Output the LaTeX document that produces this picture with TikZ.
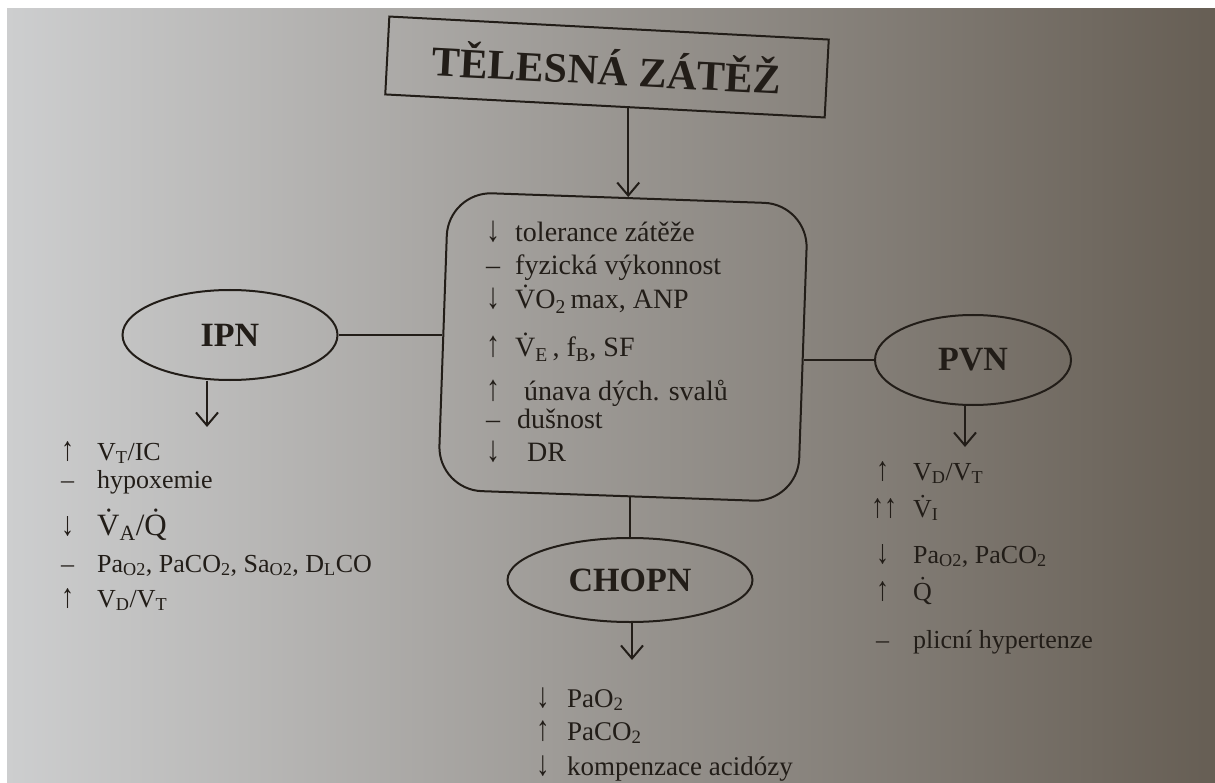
\documentclass[tikz,border=0pt]{standalone}
\usepackage{fontspec}
\usepackage{graphicx}
\setmainfont{Liberation Serif}
\usetikzlibrary{arrows.meta,shapes.geometric}
\definecolor{ink}{HTML}{221D18}
\definecolor{bgL}{HTML}{CDCECF}
\definecolor{bgM}{HTML}{9C978F}
\definecolor{bgR}{HTML}{665E54}
\newcommand{\mk}[2][29pt]{\makebox[#1][l]{#2}}
\newcommand{\up}{\smash{\scalebox{1}[1.3]{↑}}}
\newcommand{\dn}{\smash{\scalebox{1}[1.3]{↓}}}
\tikzset{
  every node/.style={text=ink, inner sep=0pt},
  lbl/.style={anchor=base west, font=\fontsize{27}{30}\selectfont},
  lbls/.style={anchor=base west, font=\fontsize{26}{30}\selectfont},
  lblc/.style={anchor=base west, font=\fontsize{28}{30}\selectfont},
  ell/.style={draw=ink, ellipse, line width=2pt, font=\bfseries\fontsize{34}{36}\selectfont},
  conn/.style={draw=ink, line width=2pt},
  arr/.style={draw=ink, line width=2pt, -{Straight Barb[length=13pt,width=22pt]}},
}
\begin{document}
\begin{tikzpicture}[x=1pt,y=-1pt]
\useasboundingbox (0,0) rectangle (1215,783);
\fill[white] (0,0) rectangle (1215,783);
\shade[left color=bgL, middle color=bgM, right color=bgR] (7,9) rectangle (1215,783);

% title
\node[draw=ink, line width=2pt, rotate=-3, minimum width=440pt, minimum height=78pt,
      font=\bfseries\fontsize{42}{44}\selectfont] (title) at (607,67) {TĚLESNÁ ZÁTĚŽ};

% central box
\node[draw=ink, line width=2pt, rounded corners=44pt, rotate=-2,
      minimum width=360pt, minimum height=298pt] (box) at (623,347) {};

\node[lblc] (c1) at (486,242) {\mk{\dn}tolerance zátěže};
\node[lblc] (c2) at (486,275) {\mk{–}fyzická výkonnost};
\node[lblc] (c3) at (486,309) {\mk{\dn}\.VO\textsubscript{2}\,max, ANP};
\node[lblc] (c4) at (486,357) {\mk{\up}\.V\textsubscript{E}\,, f\textsubscript{B}, SF};
\node[lblc] (c5) at (486,400) {\mk[38pt]{\up}únava dých. svalů};
\node[lblc] (c6) at (486,428) {\mk[31pt]{–}dušnost};
\node[lblc] (c7) at (486,461) {\mk[41pt]{\dn}DR};

% ellipses
\node[ell, minimum width=215pt, minimum height=90pt] (IPN) at (230,335) {IPN};
\node[ell, minimum width=196pt, minimum height=90pt] (PVN) at (973,360) {PVN};
\node[ell, minimum width=245pt, minimum height=84pt] (CHOPN) at (630,580) {CHOPN};

% connectors
\draw[arr] (box.north |- title.south) -- (box.north);
\draw[conn] (IPN.east) -- (IPN.east -| box.west);
\draw[conn] (PVN.west) -- (PVN.west -| box.east);
\draw[conn] (CHOPN.north |- box.south) -- (CHOPN.north);

\coordinate (ipnend) at (207,427);
\coordinate (pvnend) at (965,447);
\coordinate (chend) at (632,660);
\draw[arr] (ipnend |- IPN.south) -- (ipnend);
\draw[arr] (pvnend |- PVN.south) -- (pvnend);
\draw[arr] (chend |- CHOPN.south) -- (chend);

% IPN list
\node[lbls] (i1) at (61,460) {\mk[36pt]{\up}V\textsubscript{T}/IC};
\node[lbls] (i2) at (61,488) {\mk[36pt]{–}hypoxemie};
\node[lbls] (i3) at (61,535) {\mk[36pt]{\dn}{\fontsize{31}{31}\selectfont\.V\textsubscript{A}/\.Q}};
\node[lbls] (i4) at (61,572) {\mk[36pt]{–}Pa\textsubscript{O2}, PaCO\textsubscript{2}, Sa\textsubscript{O2}, D\textsubscript{L}CO};
\node[lbls] (i5) at (61,607) {\mk[36pt]{\up}V\textsubscript{D}/V\textsubscript{T}};

% PVN list
\node[lbls] (p1) at (876,480) {\mk[37pt]{\up}V\textsubscript{D}/V\textsubscript{T}};
\node[lbls] (p2) at (871,517) {\mk[42pt]{\up\up}\.V\textsubscript{I}};
\node[lbls] (p3) at (876,563) {\mk[37pt]{\dn}Pa\textsubscript{O2}, PaCO\textsubscript{2}};
\node[lbls] (p4) at (876,600) {\mk[37pt]{\up}\.Q};
\node[lbls] (p5) at (876,648) {\mk[37pt]{–}plicní hypertenze};

% CHOPN list
\node[lbl] (h1) at (536,707) {\mk[31pt]{\dn}PaO\textsubscript{2}};
\node[lbl] (h2) at (536,740) {\mk[31pt]{\up}PaCO\textsubscript{2}};
\node[lbl] (h3) at (536,775) {\mk[31pt]{\dn}kompenzace acidózy};
\end{tikzpicture}
\end{document}
